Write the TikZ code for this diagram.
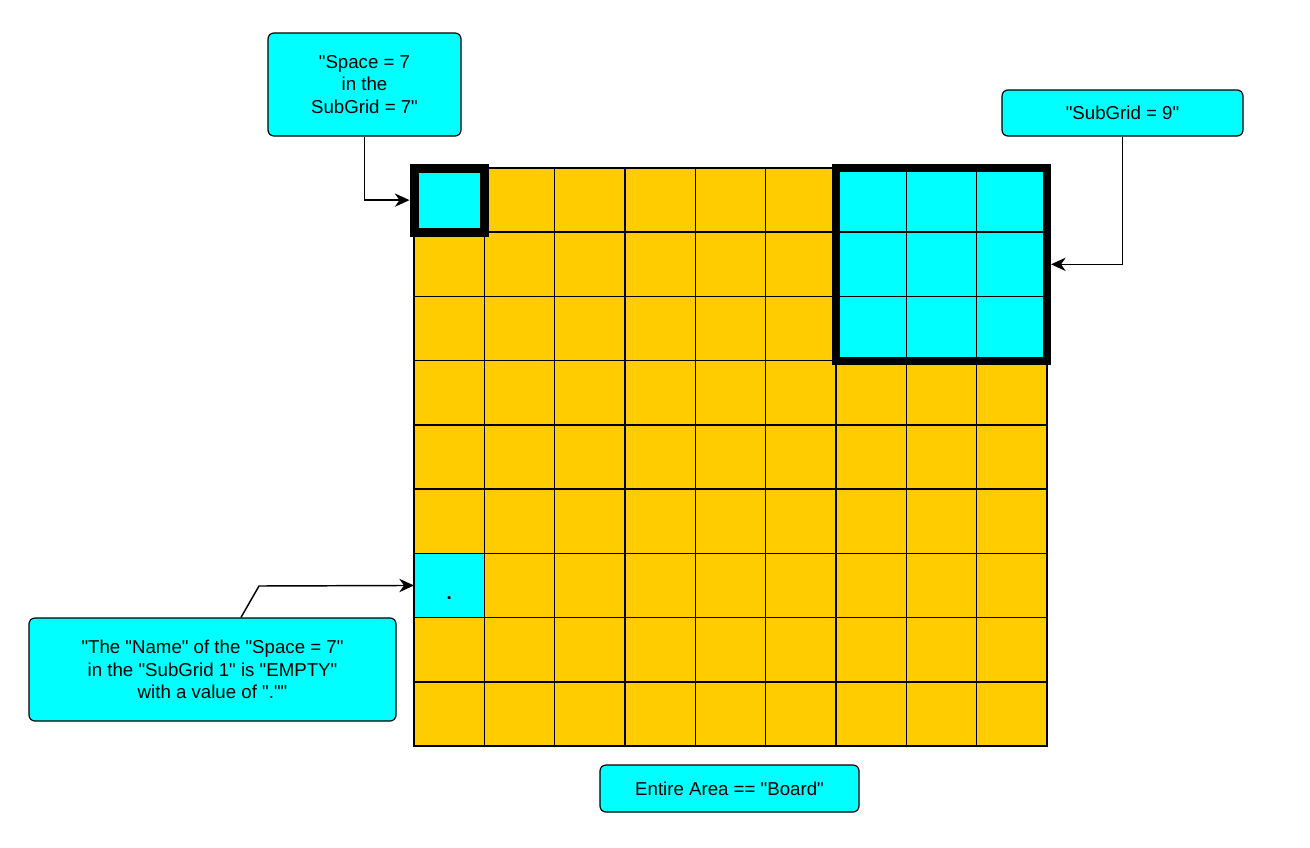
\documentclass[tikz,border=0pt]{standalone}
\usepackage{fontspec}
\newfontfamily\plainsans{Liberation Sans}
\usetikzlibrary{arrows.meta,fit,calc}
\definecolor{cellyellow}{HTML}{FFCC00}
\definecolor{boxcyan}{HTML}{00FFFF}
\begin{document}
\begin{tikzpicture}[x=0.75pt,y=-0.75pt,
  cell/.style={fill=cellyellow,minimum width=52.75pt,minimum height=48.17pt,inner sep=0pt,outer sep=0pt},
  cyancell/.style={cell,fill=boxcyan},
  gridline/.style={draw=black,line width=1.1pt,line cap=rect},
  callout/.style={draw=black,line width=0.9pt,fill=boxcyan,rounded corners=4.5pt,align=center,font=\plainsans\fontsize{14}{16.8}\selectfont,inner sep=0pt},
  conn/.style={draw=black,line width=1.1pt},
  arrowconn/.style={conn,-{Stealth[length=11pt,width=10pt,inset=3.5pt]}},
  thickA/.style={draw=black,line width=6.75pt,inner sep=0pt},
  thickB/.style={draw=black,line width=6pt,inner sep=0pt}
]
\useasboundingbox (0,0) rectangle (1310,847);
% grid cells
\foreach \r in {1,...,9}{
  \foreach \c in {1,...,9}{
    \node[cell] (c-\r-\c) at ({414+70.333*(\c-0.5)},{168+64.222*(\r-0.5)}) {};
  }
}
% cyan cells
\node[cyancell] at (c-1-1) {};
\node[cyancell] at (c-7-1) {};
\foreach \r in {1,2,3}{
  \foreach \c in {7,8,9}{
    \node[cyancell] at (c-\r-\c) {};
  }
}
% grid lines
\foreach \k in {1,...,9}{
  \draw[gridline] (c-1-\k.north west) -- (c-9-\k.south west);
  \draw[gridline] (c-\k-1.north west) -- (c-\k-9.north east);
}
\draw[gridline] (c-1-9.north east) -- (c-9-9.south east);
\draw[gridline] (c-9-1.south west) -- (c-9-9.south east);
\node[font=\plainsans\fontsize{14}{16.8}\selectfont\bfseries,anchor=base,inner sep=0pt] (dot) at ($(c-7-1.center)+(0,14.5)$) {.};
% thick outlines
\node[thickA,fit=(c-1-1)] (sp7) {};
\node[thickB,fit=(c-1-7)(c-3-9)] (sg9) {};
% callouts
\node[callout,minimum width=144.75pt,minimum height=77.25pt] (box1) at (364.5,84.5) {"Space = 7\\in the\\SubGrid = 7"};
\node[callout,minimum width=180.75pt,minimum height=34.5pt] (box2) at (1122.5,113) {"SubGrid = 9"};
\node[callout,minimum width=275.25pt,minimum height=77.25pt] (box3) at (212.5,669.5) {"The "Name" of the "Space = 7"\\in the "SubGrid 1" is "EMPTY"\\with a value of ".""};
\node[callout,minimum width=194.25pt,minimum height=35.25pt] (box4) at (729.5,788.5) {Entire Area == "Board"};
% connectors
\draw[arrowconn] (box1.south) |- (sp7.west);
\draw[arrowconn] (box2.south) |- (sg9.east);
\coordinate (bend) at (259,586);
\draw[arrowconn] ($(box3.north)+(28.5,0)$) -- (bend) -- (c-7-1.west);
\end{tikzpicture}
\end{document}
